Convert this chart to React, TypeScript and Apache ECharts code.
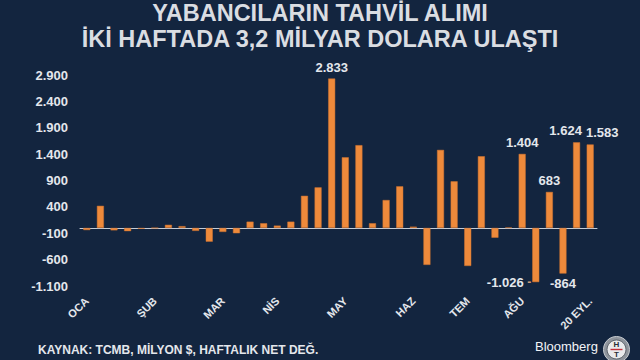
import React, { useEffect, useRef } from "react";
import * as echarts from "echarts";

const titleLines = ["YABANCILARIN TAHVİL ALIMI", "İKİ HAFTADA 3,2 MİLYAR DOLARA ULAŞTI"];
const sourceText = "KAYNAK: TCMB, MİLYON $, HAFTALIK NET DEĞ.";

// weekly net flows (million $)
const flows = [
  -40, 420, -45, -60, -15, 0, 60, 35, -55, -260, -75, -100, 120, 90, 45, 120, 610, 770, 2833,
  1340, 1570, 90, 530, 790, 25, -700, 1480, 885, -720, 1360, -185, 10, 1404, -1026, 683, -864,
  1624, 1583,
];

// month tick labels (by week index)
const monthTicks: [number, string][] = [
  [0, "OCA"], [5, "ŞUB"], [10, "MAR"], [14, "NİS"], [19, "MAY"], [24, "HAZ"], [28, "TEM"], [32, "AĞU"], [37, "20 EYL."],
];
const weekLabels = flows.map((_, i) => {
  const m = monthTicks.find((t) => t[0] === i);
  return m ? m[1] : "";
});
const weeks = flows.map((_, i) => "W" + (i + 1));

const yMin = -1100;
const yMax = 2900;
const yStep = 500;

const fmt = (v: number) => {
  const s = Math.round(Math.abs(v)).toString().replace(/\B(?=(\d{3})+(?!\d))/g, ".");
  return (v < 0 ? "-" : "") + s;
};

const labelled: Record<number, any> = {
  18: { position: "top" },
  32: { position: "top" },
  33: { position: [-1, "100%"], align: "right", verticalAlign: "middle", formatter: (p: any) => `{v|${fmt(p.value)}} {d|-}` },
  34: { position: "top" },
  35: { position: "bottom", distance: 3 },
  36: { position: "top", offset: [-11, 0] },
  37: { position: "top", offset: [12, 0] },
};

const BG = "#13253f";
const TXT = "#e4e7ec";
const FONT = "'Liberation Sans', Arial, sans-serif";

export default function App() {
  const ref = useRef<HTMLDivElement>(null);
  useEffect(() => {
    document.body.style.margin = "0";
    const chart = echarts.init(ref.current!, undefined, { renderer: "svg" });
    const data = flows.map((v, i) => {
      const l = labelled[i];
      if (!l) return v;
      return {
        value: v,
        label: {
          show: true,
          color: TXT,
          fontWeight: "bold",
          fontSize: 13,
          fontFamily: FONT,
          distance: 5,
          formatter: (p: any) => fmt(p.value),
          rich: {
            v: { color: TXT, fontWeight: "bold", fontSize: 13, fontFamily: FONT },
            d: { color: "#c99a78", fontWeight: "bold", fontSize: 12, fontFamily: FONT },
          },
          ...l,
        },
      };
    });
    chart.setOption({
      animation: false,
      backgroundColor: BG,
      textStyle: { fontFamily: FONT },
      title: [
        {
          text: titleLines.join("\n"),
          left: "center",
          top: -5,
          textStyle: { color: "#dadde2", fontSize: 23.5, fontWeight: "bold", fontFamily: FONT, lineHeight: 26 },
        },
        {
          text: sourceText,
          left: 33,
          top: 339,
          textStyle: { color: TXT, fontSize: 12, fontWeight: "bold", fontFamily: FONT },
        },
      ],
      grid: { left: 80, right: 43, top: 75, bottom: 74 },
      xAxis: [
        {
          type: "category",
          data: weeks,
          axisLine: { show: true, onZero: true, lineStyle: { color: "#c3cbd6", width: 1 } },
          axisTick: { show: false },
          axisLabel: { show: false },
          splitLine: { show: false },
        },
        {
          type: "category",
          data: weekLabels,
          position: "bottom",
          axisLine: { show: false, onZero: false },
          axisTick: { show: false },
          axisLabel: {
            interval: 0,
            rotate: 45,
            margin: 13,
            color: TXT,
            fontWeight: "bold",
            fontSize: 11,
            fontFamily: FONT,
          },
          splitLine: { show: false },
        },
      ],
      yAxis: {
        type: "value",
        min: yMin,
        max: yMax,
        interval: yStep,
        axisLine: { show: false },
        axisTick: { show: false },
        splitLine: { show: false },
        axisLabel: {
          margin: 12,
          color: TXT,
          fontWeight: "bold",
          fontSize: 13,
          fontFamily: FONT,
          formatter: (v: number) => fmt(v),
        },
      },
      series: [
        {
          type: "bar",
          data,
          barWidth: 7,
          itemStyle: { color: "#ee8a3b", borderColor: "#d27530", borderWidth: 0.5 },
        },
      ],
      graphic: [
        {
          type: "text",
          left: 535,
          top: 340,
          style: { text: "Bloomberg", fill: "#f2f4f7", font: `500 13px ${FONT}` },
        },
        {
          type: "group",
          left: 603,
          top: 336,
          children: [
            { type: "circle", shape: { cx: 13, cy: 13, r: 13 }, style: { fill: "#8e949c", stroke: "#c9cdd2", lineWidth: 1 } },
            { type: "circle", shape: { cx: 13, cy: 13, r: 9.5 }, style: { fill: "#e9eaec", stroke: "#5d636b", lineWidth: 1 } },
            { type: "text", x: 13, y: 8, style: { text: "H", fill: "#2a2f36", font: `bold 8px ${FONT}`, align: "center", verticalAlign: "middle" } },
            { type: "rect", shape: { x: 7, y: 12.3, width: 12, height: 1.4 }, style: { fill: "#c0303a" } },
            { type: "text", x: 13, y: 18, style: { text: "T", fill: "#2a2f36", font: `bold 8px ${FONT}`, align: "center", verticalAlign: "middle" } },
          ],
        },
      ],
    });
    return () => chart.dispose();
  }, []);
  return <div ref={ref} style={{ width: 640, height: 360, position: "fixed", left: 0, top: 0 }} />;
}
